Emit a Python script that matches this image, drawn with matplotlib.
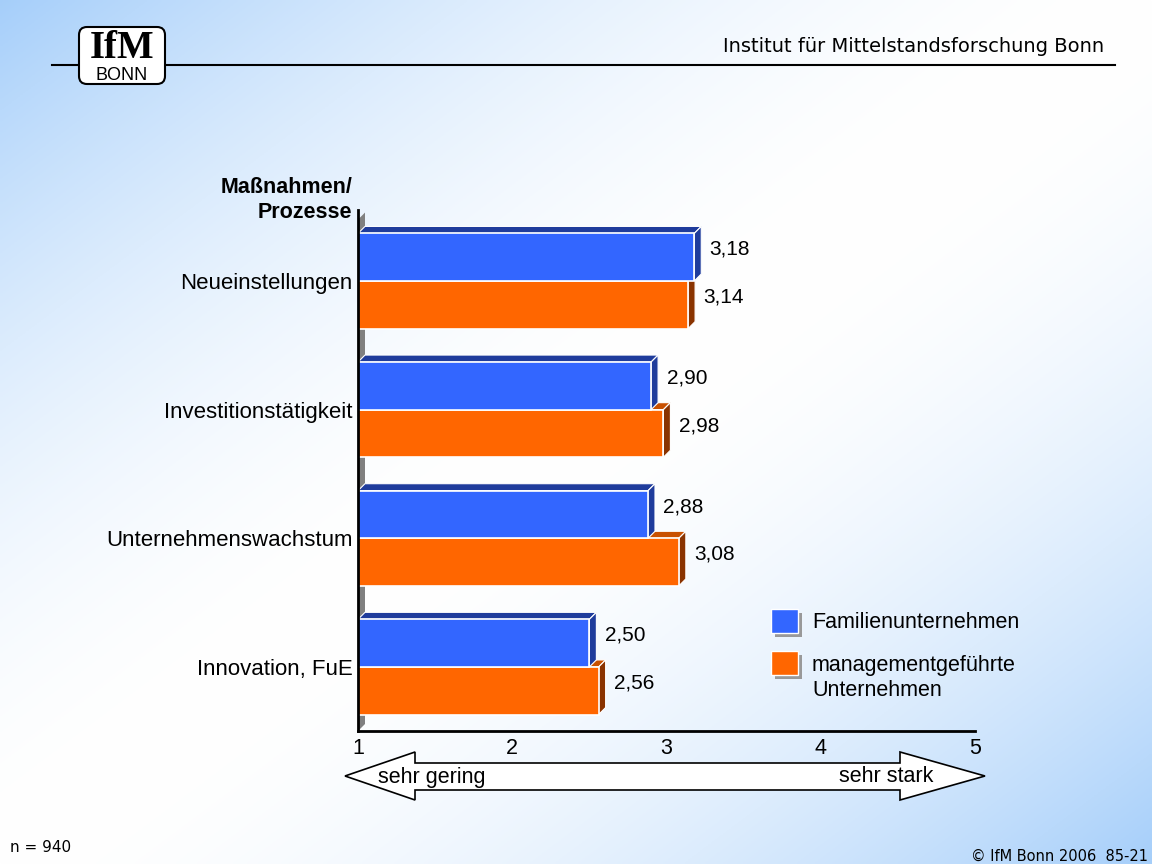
import matplotlib
matplotlib.use('Agg')
import matplotlib.pyplot as plt
import matplotlib.patches as patches
import numpy as np

# data
categories = ['Neueinstellungen', 'Investitionstätigkeit', 'Unternehmenswachstum', 'Innovation, FuE']
familien = [3.18, 2.90, 2.88, 2.50]
management = [3.14, 2.98, 3.08, 2.56]
series_names = ['Familienunternehmen', 'managementgeführte\nUnternehmen']
x_ticks = [1, 2, 3, 4, 5]

plt.rcParams['font.family'] = ['Liberation Sans', 'DejaVu Sans']

W, H = 1152, 864
fig = plt.figure(figsize=(W / 100, H / 100), dpi=100)

# background gradient (blue corners top-left / bottom-right, white diagonal)
bg = fig.add_axes([0, 0, 1, 1], zorder=-10)
xx, yy = np.meshgrid(np.linspace(0, 1, 400), np.linspace(0, 1, 300))
t = np.abs((xx + yy) / 2 - 0.5) * 2
t = np.clip(t, 0, 1) ** 1.8
blue = np.array([0.65, 0.81, 0.98])
white = np.array([1.0, 1.0, 1.0])
img = white[None, None, :] * (1 - t[..., None]) + blue[None, None, :] * t[..., None]
bg.imshow(img, aspect='auto', extent=[0, 1, 1, 0])
bg.axis('off')

# chart axes: x 1..5 spans px 358..975, y px 210..731
ax = fig.add_axes([358 / W, (H - 731) / H, (975 - 358) / W, (731 - 210) / H])
ax.patch.set_alpha(0)
ax.set_xlim(1, 5)
ax.set_ylim(3.498, -0.552)

bh = 0.37
dx = 7 / 154.25   # depth in x units
dy = 7 / 128.7    # depth in y units

blue_c, blue_d = '#3366ff', '#1f3c9c'
org_c, org_d, org_top = '#ff6600', '#8a3300', '#c85000'

# back wall (gray)
ytop, ybot = -0.552 + 0.02, 3.498
ax.add_patch(patches.Polygon([(1, ybot), (1 + dx, ybot - dy), (1 + dx, ytop), (1, ytop + dy)],
                             closed=True, facecolor='#808080', edgecolor='none', zorder=1,
                             clip_on=False))

y = np.arange(len(categories))
for i in range(len(categories)):
    for val, yc, fc, dc, tc in [(management[i], y[i] + bh / 2, org_c, org_d, org_top),
                                (familien[i], y[i] - bh / 2, blue_c, blue_d, blue_d)]:
        top = yc - bh / 2
        bot = yc + bh / 2
        # top face
        ax.add_patch(patches.Polygon([(1, top), (1 + dx, top - dy), (val + dx, top - dy), (val, top)],
                                     closed=True, facecolor=tc, edgecolor='white', lw=0.8, zorder=2 + i))
        # side face
        ax.add_patch(patches.Polygon([(val, top), (val + dx, top - dy), (val + dx, bot - dy), (val, bot)],
                                     closed=True, facecolor=dc, edgecolor='white', lw=0.8, zorder=2 + i))
        ax.barh(yc, val - 1, left=1, height=bh, color=fc, edgecolor='white', lw=1.2, zorder=2.5 + i)
        ax.text(val + 0.1, yc - 0.06, f'{val:.2f}'.replace('.', ','), ha='left', va='center',
                fontsize=15, color='black', zorder=10)

ax.set_yticks(y)
ax.set_yticklabels(categories, fontsize=16)
ax.set_xticks(x_ticks)
ax.set_xticklabels([str(v) for v in x_ticks], fontsize=15.5)
ax.tick_params(length=0, pad=4)
ax.tick_params(axis='x', pad=5)
for s in ['top', 'right']:
    ax.spines[s].set_visible(False)
ax.spines['left'].set_linewidth(2)
ax.spines['bottom'].set_linewidth(2)
ax.spines['left'].set_zorder(20)

# overlay in pixel coordinates for decorations
ov = fig.add_axes([0, 0, 1, 1], zorder=5)
ov.set_xlim(0, W)
ov.set_ylim(H, 0)
ov.axis('off')
ov.patch.set_alpha(0)

# header
ov.plot([52, 1115], [65, 65], color='black', lw=1.5)
ov.add_patch(patches.FancyBboxPatch((79, 27), 86, 57, boxstyle='round,pad=0,rounding_size=8',
                                    facecolor='white', edgecolor='black', lw=1.5, zorder=3))
ov.text(122, 48, 'IfM', ha='center', va='center', fontsize=28, fontweight='bold',
        family='Liberation Serif', zorder=4)
ov.text(122, 75, 'BONN', ha='center', va='center', fontsize=13, zorder=4)
ov.text(1104, 47, 'Institut für Mittelstandsforschung Bonn', ha='right', va='center',
        fontsize=14, family='DejaVu Sans')

# y-axis title
ov.text(352, 200, 'Maßnahmen/\nProzesse', ha='right', va='center', fontsize=15.5,
        fontweight='bold', linespacing=1.3)

# double arrow
arrow = [(345, 776), (415, 752), (415, 763), (900, 763), (900, 752), (985, 776),
         (900, 800), (900, 790), (415, 790), (415, 800)]
ov.add_patch(patches.Polygon(arrow, closed=True, facecolor='white', edgecolor='black', lw=1.2))
ov.text(378, 777, 'sehr gering', ha='left', va='center', fontsize=15.5)
ov.text(933, 777, 'sehr stark', ha='right', va='center', fontsize=15.5)

# legend
for (yy0, fc) in [(609, blue_c), (651, org_c)]:
    ov.add_patch(patches.Rectangle((775, yy0 + 4), 27, 24, facecolor='#999999', edgecolor='none'))
    ov.add_patch(patches.Rectangle((771, yy0), 27, 24, facecolor=fc, edgecolor='white', lw=1))
ov.text(812, 623, series_names[0], ha='left', va='center', fontsize=15.5)
ov.text(812, 678, series_names[1], ha='left', va='center', fontsize=15.5, linespacing=1.3)

# footer
ov.text(10, 848, 'n = 940', ha='left', va='center', fontsize=11, family='DejaVu Sans')
ov.text(1148, 856, '© IfM Bonn 2006  85-21', ha='right', va='center', fontsize=10.5,
        family='DejaVu Sans')

fig.savefig('out.png', dpi=100)
plt.close(fig)
